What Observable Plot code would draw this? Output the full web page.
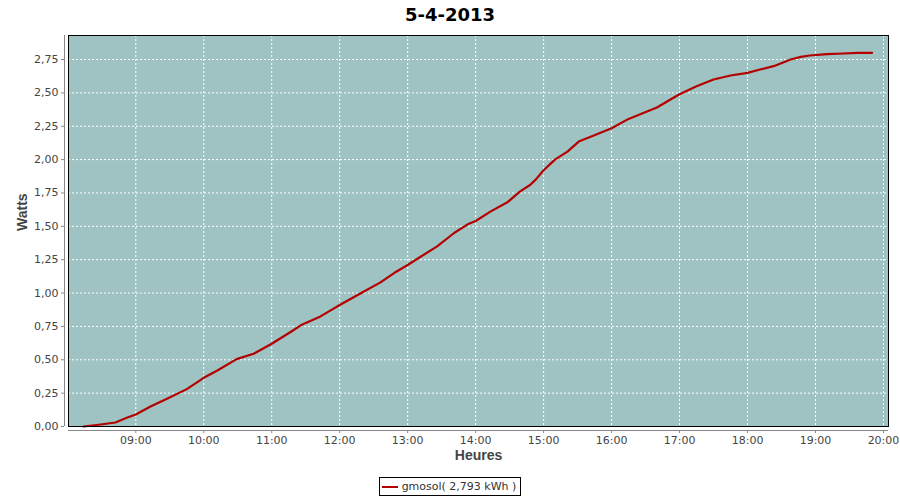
<!DOCTYPE html>
<html>
<head>
<meta charset="utf-8">
<script src="https://cdn.jsdelivr.net/npm/d3@7"></script>
<script src="https://cdn.jsdelivr.net/npm/@observablehq/plot@0.6"></script>
<style>
  html, body { margin: 0; padding: 0; background: #fff; }
  #wrap { width: 900px; height: 500px; position: relative; font-family: "DejaVu Sans", sans-serif; }
  #title { height: 29px; line-height: 29px; text-align: center; font-weight: bold; font-size: 18px; color: #000; }
  #legend { height: 25px; display: flex; justify-content: center; align-items: flex-start; }
  #legend .box { margin-top: 2px; border: 1px solid #000; height: 19px; box-sizing: border-box; display: flex; align-items: center; padding: 0 4px 0 2px; font-size: 11px; color: #333; }
  #legend .swatch { width: 16px; height: 2px; background: #b40000; margin-right: 4px; }
  svg { display: block; }
</style>
</head>
<body>
<div id="wrap">
  <div id="title"></div>
  <div id="chart"></div>
  <div id="legend"></div>
</div>
<script>
const title = "5-4-2013";
const seriesName = "gmosol( 2,793 kWh )";
const xLabel = "Heures";
const yLabel = "Watts";

const times = [
  "08:14","08:29","08:42","08:52","09:00","09:13","09:28","09:45","10:00","10:12",
  "10:29","10:44","11:00","11:17","11:26","11:43","11:52","12:00","12:21","12:36",
  "12:48","13:00","13:11","13:26","13:41","13:54","14:00","14:13","14:28","14:39",
  "14:48","14:53","15:00","15:10","15:21","15:31","15:47","16:00","16:15","16:28",
  "16:40","16:52","17:00","17:15","17:30","17:45","18:00","18:11","18:23","18:32",
  "18:38","18:47","18:55","19:10","19:25","19:37","19:50"
];
const watts = [
  0.00, 0.015, 0.03, 0.065, 0.09, 0.15, 0.21, 0.28, 0.365, 0.42,
  0.505, 0.545, 0.62, 0.71, 0.76, 0.825, 0.87, 0.91, 1.01, 1.08,
  1.15, 1.21, 1.27, 1.35, 1.45, 1.52, 1.54, 1.61, 1.68, 1.76,
  1.81, 1.85, 1.92, 2.00, 2.06, 2.135, 2.19, 2.235, 2.305, 2.35,
  2.39, 2.45, 2.49, 2.55, 2.60, 2.63, 2.65, 2.675, 2.70, 2.73,
  2.75, 2.77, 2.78, 2.79, 2.795, 2.80, 2.80
];

const xTickHours = [9, 10, 11, 12, 13, 14, 15, 16, 17, 18, 19, 20];
const yTicks = [0, 0.25, 0.5, 0.75, 1, 1.25, 1.5, 1.75, 2, 2.25, 2.5, 2.75];
const xDomain = [8.01, 20.074];
const yDomain = [0, 2.93];

const toHours = s => { const [h, m] = s.split(":").map(Number); return h + m / 60; };
const data = times.map((t, i) => ({ h: toHours(t), w: watts[i] }));
const fmtX = h => String(h).padStart(2, "0") + ":00";
const fmtY = v => v.toFixed(2).replace(".", ",");

document.getElementById("title").textContent = title;

const chart = Plot.plot({
  width: 900,
  height: 446,
  marginTop: 6,
  marginLeft: 68,
  marginRight: 12,
  marginBottom: 49,
  style: { fontFamily: "DejaVu Sans, sans-serif", fontSize: "11px", color: "#444", background: "#fff" },
  x: { type: "linear", domain: xDomain },
  y: { type: "linear", domain: yDomain },
  marks: [
    Plot.frame({ fill: "#9ec3c2" }),
    Plot.gridX(xTickHours, { stroke: "#fff", strokeOpacity: 1, strokeDasharray: "2,2" }),
    Plot.gridY(yTicks, { stroke: "#fff", strokeOpacity: 1, strokeDasharray: "2,2" }),
    Plot.line(data, { x: "h", y: "w", stroke: "#b40000", strokeWidth: 2.2 }),
    Plot.frame({ stroke: "#000", strokeWidth: 1 }),
    Plot.ruleX([xDomain[0]], { dx: -4, stroke: "#888" }),
    Plot.ruleY([yDomain[0]], { dy: 4, stroke: "#888" }),
    Plot.axisY(yTicks, { dx: -4, tickSize: 3, tickPadding: 3, stroke: "#888", tickFormat: fmtY, label: null, fill: "#444" }),
    Plot.axisX(xTickHours, { dy: 4, tickSize: 3, tickPadding: 3, stroke: "#888", tickFormat: fmtX, label: null, fill: "#444" }),
    Plot.text([yLabel], { frameAnchor: "left", rotate: -90, dx: -46, fontFamily: "Liberation Sans, sans-serif", fontWeight: "bold", fontSize: 14, fill: "#444" }),
    Plot.text([xLabel], { frameAnchor: "bottom", dy: 33, fontFamily: "Liberation Sans, sans-serif", fontWeight: "bold", fontSize: 14, fill: "#444" })
  ]
});
document.getElementById("chart").appendChild(chart);

const legend = document.getElementById("legend");
legend.innerHTML = '<div class="box"><span class="swatch"></span><span></span></div>';
legend.querySelector(".box span:last-child").textContent = seriesName;
</script>
</body>
</html>
